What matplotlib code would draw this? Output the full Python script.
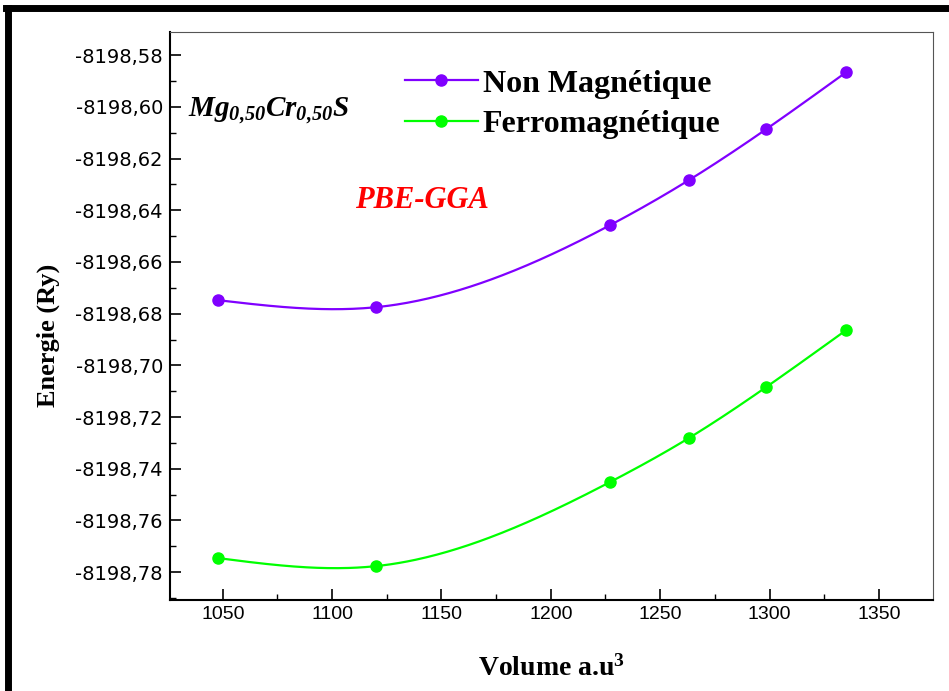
import numpy as np
import matplotlib.pyplot as plt
from matplotlib.lines import Line2D
from matplotlib.ticker import MultipleLocator, FuncFormatter

# data
volume = [1048, 1120, 1227, 1263, 1298.5, 1335]
e_nm = [-8198.6748, -8198.6775, -8198.6458, -8198.6284, -8198.6086, -8198.5866]
e_fm = [-8198.7746, -8198.7777, -8198.7452, -8198.7282, -8198.7084, -8198.6864]

c_nm = '#8000ff'
c_fm = '#00ff00'

plt.rcParams['mathtext.fontset'] = 'custom'
plt.rcParams['mathtext.it'] = 'Liberation Serif:italic:bold'
plt.rcParams['mathtext.rm'] = 'Liberation Serif:italic:bold'
plt.rcParams['mathtext.bf'] = 'Liberation Serif:bold'


def spline(x, y, xs):
    # natural cubic spline through the points (smooth drawing only)
    x = np.asarray(x, float)
    y = np.asarray(y, float) - y[0]
    n = len(x)
    h = np.diff(x)
    A = np.zeros((n, n))
    b = np.zeros(n)
    A[0, 0] = A[-1, -1] = 1
    for i in range(1, n - 1):
        A[i, i - 1] = h[i - 1]
        A[i, i] = 2 * (h[i - 1] + h[i])
        A[i, i + 1] = h[i]
        b[i] = 6 * ((y[i + 1] - y[i]) / h[i] - (y[i] - y[i - 1]) / h[i - 1])
    M = np.linalg.solve(A, b)
    out = np.empty_like(xs)
    for k, t in enumerate(xs):
        i = min(max(np.searchsorted(x, t) - 1, 0), n - 2)
        a = x[i + 1] - t
        c = t - x[i]
        out[k] = (M[i] * a**3 + M[i + 1] * c**3) / (6 * h[i]) \
            + (y[i] / h[i] - M[i] * h[i] / 6) * a + (y[i + 1] / h[i] - M[i + 1] * h[i] / 6) * c
    return out


fig = plt.figure(figsize=(9.49, 6.91), dpi=100)
ax = fig.add_axes([0.179, 0.1317, 0.804, 0.822])

xs = np.linspace(volume[0], volume[-1], 300)
for e, col in [(e_nm, c_nm), (e_fm, c_fm)]:
    ax.plot(xs, spline(volume, e, xs) + e[0], color=col, lw=1.6)
    ax.plot(volume, e, 'o', color=col, ms=8)

ax.set_xlim(1025.8, 1374.7)
ax.set_ylim(-8198.7908, -8198.571)
ax.xaxis.set_major_locator(MultipleLocator(50))
ax.xaxis.set_minor_locator(MultipleLocator(25))
ax.yaxis.set_major_locator(MultipleLocator(0.02))
ax.yaxis.set_minor_locator(MultipleLocator(0.01))
ax.yaxis.set_major_formatter(FuncFormatter(lambda v, p: f'{v:.2f}'.replace('.', ',')))
ax.tick_params(which='both', direction='in', top=False, right=False)
ax.tick_params(which='major', length=8, width=1.2)
ax.tick_params(which='minor', length=4, width=1)
ax.tick_params(axis='x', labelsize=14, pad=4)
ax.tick_params(axis='y', labelsize=14, pad=5)
for lbl in ax.get_xticklabels():
    lbl.set_family('Liberation Sans')
for lbl in ax.get_yticklabels():
    lbl.set_family('DejaVu Sans')
for s in ['left', 'bottom']:
    ax.spines[s].set_linewidth(1.5)
for s in ['top', 'right']:
    ax.spines[s].set_color('#555555')

serif = 'Liberation Serif'
ax.set_xlabel(r'Volume a.u$^{\mathbf{3}}$', family=serif, weight='bold', fontsize=20)
ax.xaxis.set_label_coords(0.5, -0.12, transform=ax.transAxes)
ax.xaxis.label.set_va('center')
ax.set_ylabel('Energie (Ry)', family=serif, weight='bold', fontsize=19)
ax.yaxis.set_label_coords(-0.16, 0.4665, transform=ax.transAxes)
ax.yaxis.label.set_va('center')

ax.text(0.024, 0.862, r'$Mg_{0{,}50}Cr_{0{,}50}S$', transform=ax.transAxes,
        fontsize=21, va='center', ha='left')
ax.text(0.243, 0.704, 'PBE-GGA', transform=ax.transAxes, color='#ff0000',
        family=serif, weight='bold', style='italic', fontsize=22, va='center')

handles = [Line2D([], [], color=c_nm, lw=1.6, marker='o', ms=8),
           Line2D([], [], color=c_fm, lw=1.6, marker='o', ms=8)]
ax.legend(handles, ['Non Magnétique', 'Ferromagnétique'], loc='upper left',
          bbox_to_anchor=(0.27, 0.985), frameon=False, handlelength=2.3,
          handletextpad=0.15, labelspacing=0.35,
          prop={'family': serif, 'weight': 'bold', 'size': 23})

# thick border on left and top of the figure
fig.add_artist(Line2D([0.008, 0.008], [0, 0.988], color='black', lw=5, transform=fig.transFigure))
fig.add_artist(Line2D([0.006, 1.0], [0.988, 0.988], color='black', lw=5, transform=fig.transFigure))

fig.savefig('out.png', dpi=100)
